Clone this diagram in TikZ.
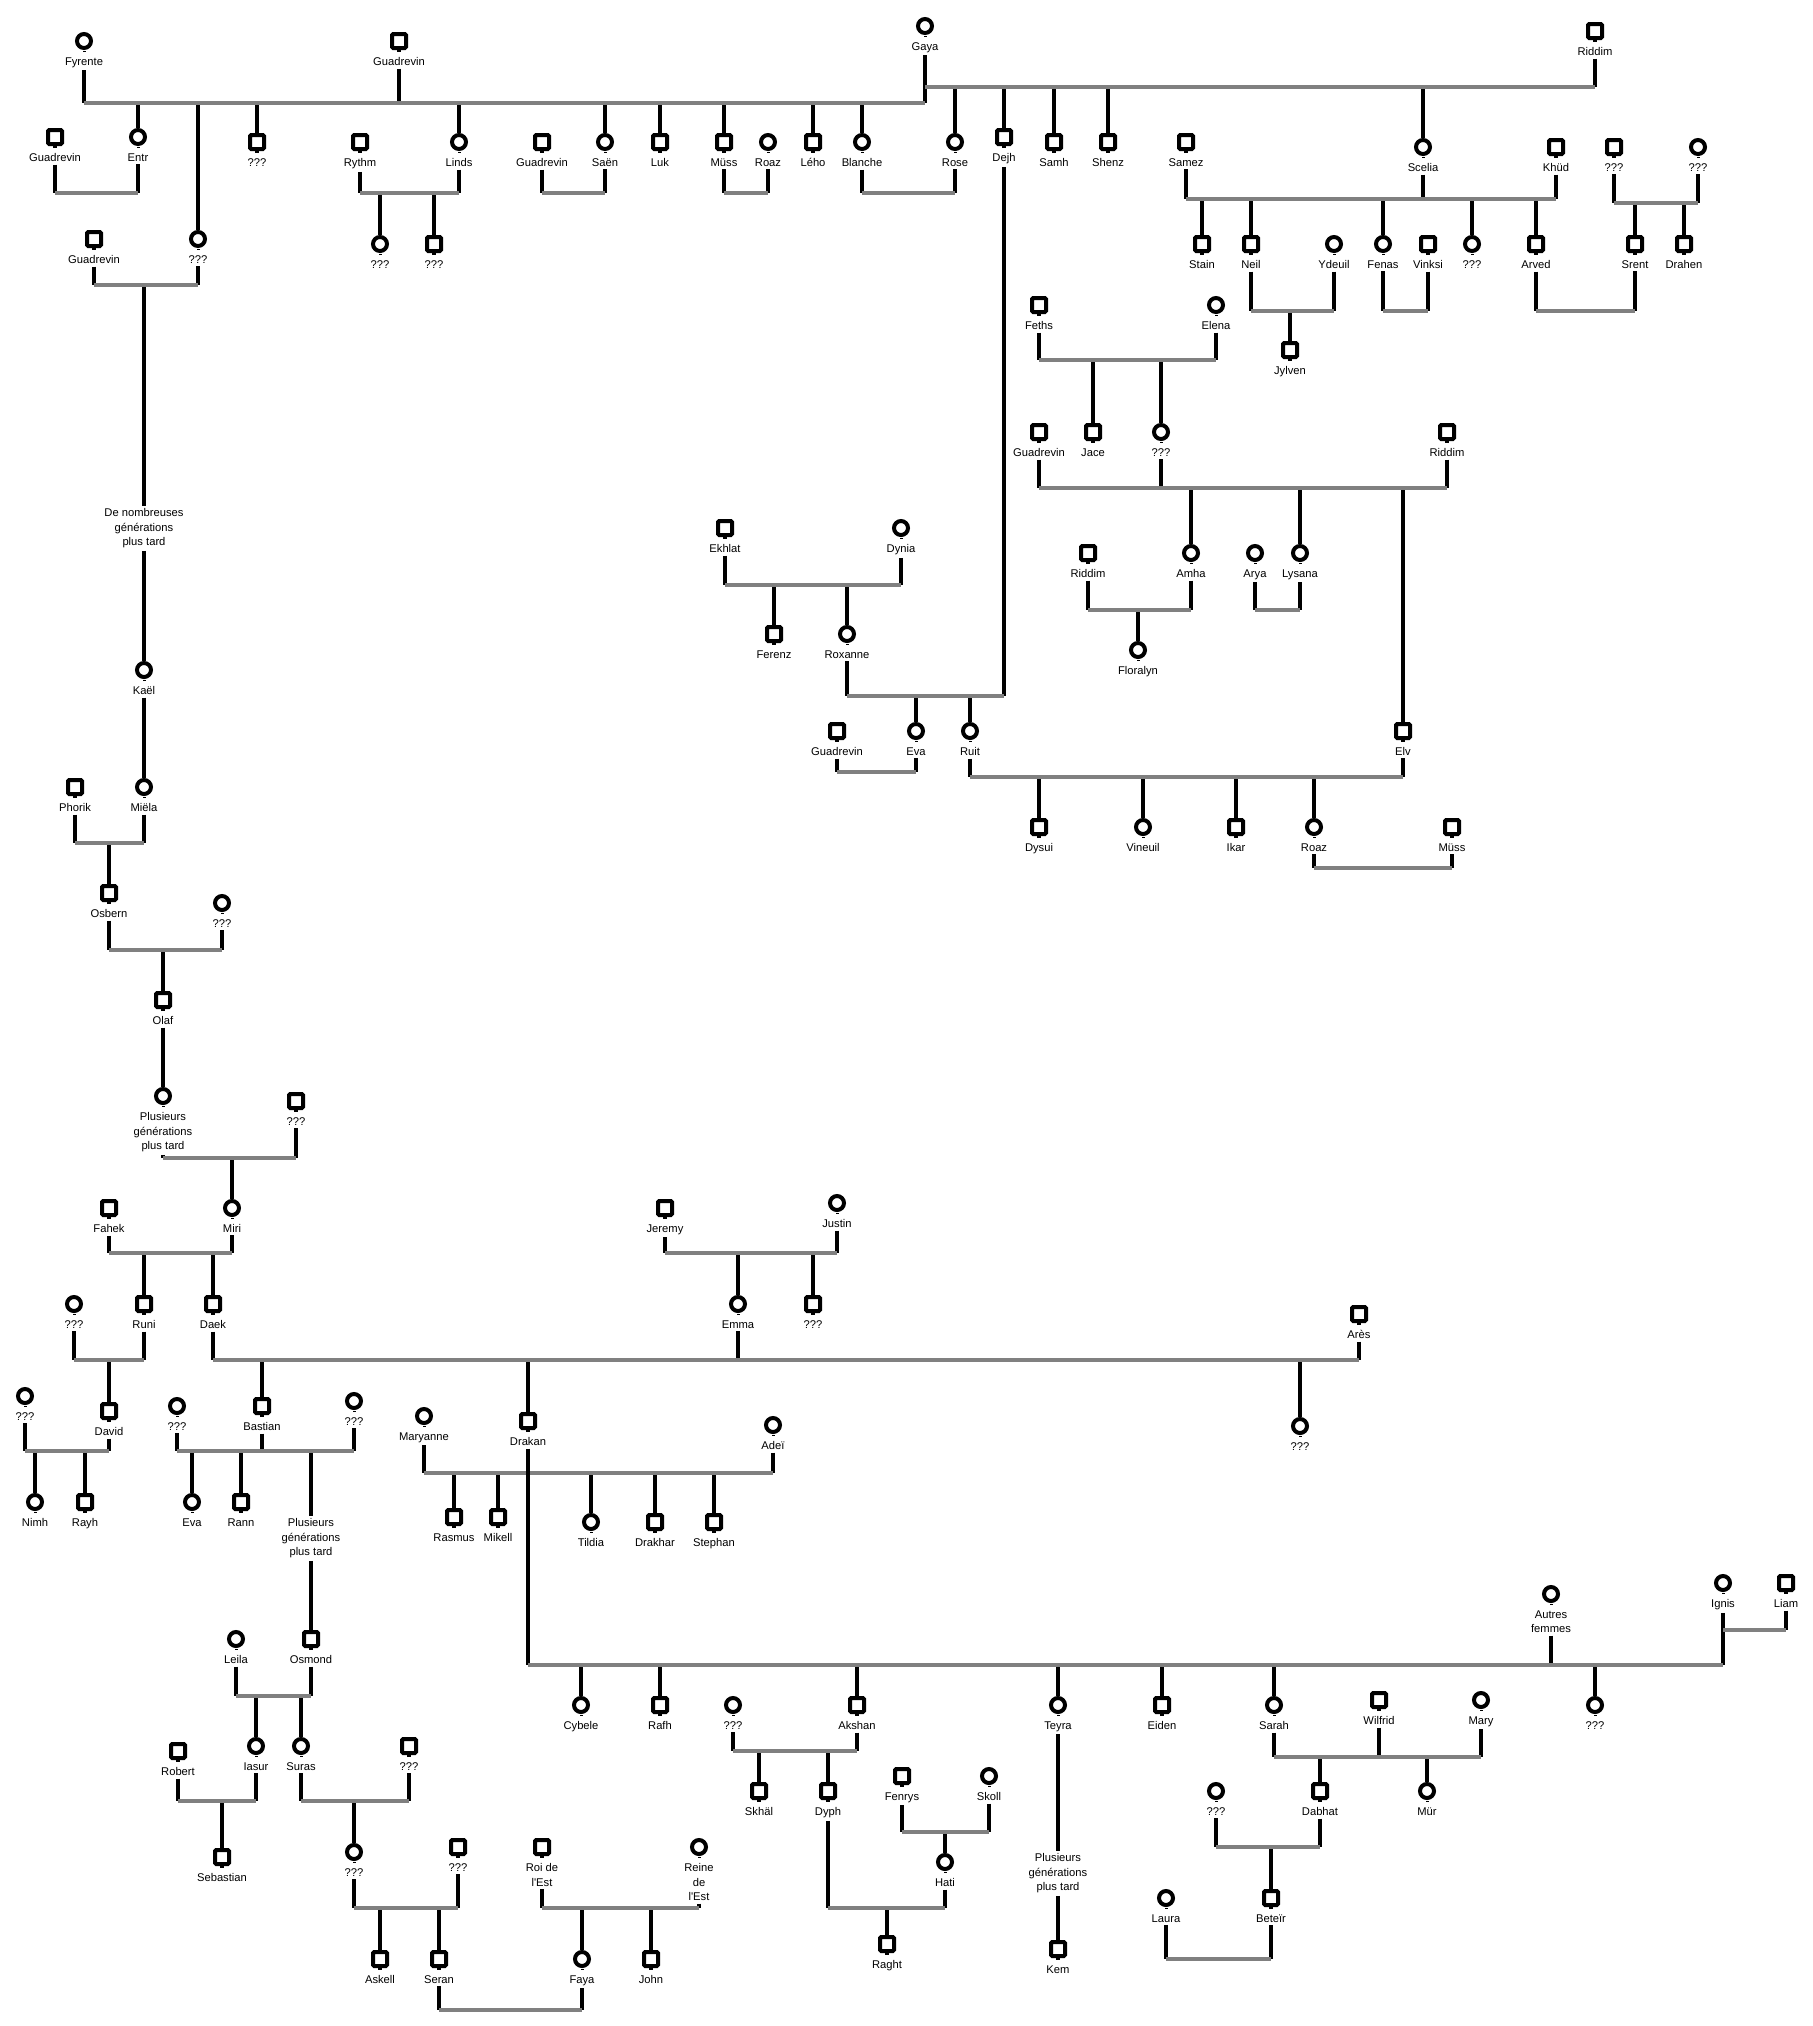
\documentclass[tikz,border=0pt]{standalone}
\usepackage{fontspec}
\newfontfamily\labf{Liberation Sans}
\definecolor{barg}{RGB}{128,128,128}
\tikzset{
 msym/.style={rectangle, draw=black, line width=2pt, fill=white, minimum width=7pt, minimum height=7pt, inner sep=0pt, rounded corners=0.6pt},
 fsym/.style={circle, draw=black, line width=2pt, fill=white, minimum size=7pt, inner sep=0pt},
 lab/.style={font=\labf\fontsize{5.6}{7.25}\selectfont, fill=white, inner xsep=0.5pt, inner ysep=1.25pt, anchor=north, align=center},
 kin/.style={draw=black, line width=2pt},
 barline/.style={draw=barg, line width=2pt},
}
\newcommand\pM[4]{\node[msym] (#1) at (#2,-#3) {};\fill (#1.center) ++(-2,-8.5) rectangle ++(4,-2);\path (#1.center) ++(0,-13.5) node[lab] (#1-l) {#4};}
\newcommand\pF[4]{\node[fsym] (#1) at (#2,-#3) {};\fill (#1.center) ++(-1.5,-9.5) rectangle ++(3,-1);\path (#1.center) ++(0,-13.5) node[lab] (#1-l) {#4};}
\newcommand\spl[2]{\draw[kin] (#1-l.south) -- (#1-l.south |- #2);}
\newcommand\chl[2]{\draw[kin] (#1 |- #2) -- (#1);}
\newcommand\barl[3]{\draw[barline] (#2 |- #1) -- (#3 |- #1);}
\begin{document}
\begin{tikzpicture}[x=0.5pt,y=0.5pt]
\fill[white] (0,0) rectangle (1813,-2026);
\useasboundingbox (0,0) rectangle (1813,-2026);
% bar levels
\foreach \v in {87,103,193,199,203,285,311,360,488,585,610,696,772,777,843,868,950,1158,1253,1360,1451,1473,1630,1665,1696,1751,1757,1801,1832,1847,1908,1959,2010}{\coordinate (y\v) at (0,-\v);}
% ---------- people ----------
\pF{fyr}{84}{41}{Fyrente}
\pM{guadA}{399}{41}{Guadrevin}
\pF{gaya}{925}{26}{Gaya}
\pM{ridA}{1595}{31}{Riddim}
\pM{guadB}{55}{137}{Guadrevin}
\pF{entr}{138}{137}{Entr}
\pM{qMa}{257}{142}{???}
\pM{rythm}{360}{142}{Rythm}
\pF{linds}{459}{142}{Linds}
\pM{guadC}{542}{142}{Guadrevin}
\pF{saen}{605}{142}{Saën}
\pM{luk}{660}{142}{Luk}
\pM{mussA}{724}{142}{Müss}
\pF{roazA}{768}{142}{Roaz}
\pM{leho}{813}{142}{Lého}
\pF{blanche}{862}{142}{Blanche}
\pF{rose}{955}{142}{Rose}
\pM{dejh}{1004}{137}{Dejh}
\pM{samh}{1054}{142}{Samh}
\pM{shenz}{1108}{142}{Shenz}
\pM{samez}{1186}{142}{Samez}
\pF{scelia}{1423}{147}{Scelia}
\pM{khud}{1556}{147}{Khüd}
\pM{qMb}{1614}{147}{???}
\pF{qFb}{1698}{147}{???}
\pM{guadD}{94}{239}{Guadrevin}
\pF{qFa}{198}{239}{???}
\pF{qFc}{380}{244}{???}
\pM{qMc}{434}{244}{???}
\pM{stain}{1202}{244}{Stain}
\pM{neil}{1251}{244}{Neil}
\pF{ydeuil}{1334}{244}{Ydeuil}
\pF{fenas}{1383}{244}{Fenas}
\pM{vinksi}{1428}{244}{Vinksi}
\pF{qFd}{1472}{244}{???}
\pM{arved}{1536}{244}{Arved}
\pM{srent}{1635}{244}{Srent}
\pM{drahen}{1684}{244}{Drahen}
\pM{jylven}{1290}{350}{Jylven}
\pM{feths}{1039}{305}{Feths}
\pF{elena}{1216}{305}{Elena}
\pM{jace}{1093}{432}{Jace}
\pF{qFe}{1161}{432}{???}
\pM{guadE}{1039}{432}{Guadrevin}
\pM{ridB}{1447}{432}{Riddim}
\pM{ekhlat}{725}{528}{Ekhlat}
\pF{dynia}{901}{528}{Dynia}
\pM{ridC}{1088}{553}{Riddim}
\pF{amha}{1191}{553}{Amha}
\pF{arya}{1255}{553}{Arya}
\pF{lysana}{1300}{553}{Lysana}
\pM{ferenz}{774}{634}{Ferenz}
\pF{roxanne}{847}{634}{Roxanne}
\pF{floralyn}{1138}{650}{Floralyn}
\pM{guadF}{837}{731}{Guadrevin}
\pF{evaA}{916}{731}{Eva}
\pF{ruit}{970}{731}{Ruit}
\pM{elv}{1403}{731}{Elv}
\pM{dysui}{1039}{827}{Dysui}
\pF{vineuil}{1143}{827}{Vineuil}
\pM{ikar}{1236}{827}{Ikar}
\pF{roazB}{1314}{827}{Roaz}
\pM{mussB}{1452}{827}{Müss}
\node[lab] (t1) at (144,-505.5) {De nombreuses\\générations\\plus tard};
\pF{kael}{144}{670}{Kaël}
\pM{phorik}{75}{787}{Phorik}
\pF{miela}{144}{787}{Miëla}
\pM{osbern}{109}{893}{Osbern}
\pF{qFf}{222}{903}{???}
\pM{olaf}{163}{1000}{Olaf}
\pF{plusA}{163}{1096}{Plusieurs\\générations\\plus tard}
\pM{qMd}{296}{1101}{???}
\pM{fahek}{109}{1208}{Fahek}
\pF{miri}{232}{1208}{Miri}
\pM{jeremy}{665}{1208}{Jeremy}
\pF{justin}{837}{1203}{Justin}
\pF{qFg}{74}{1304}{???}
\pM{runi}{144}{1304}{Runi}
\pM{daek}{213}{1304}{Daek}
\pF{emma}{738}{1304}{Emma}
\pM{qMe}{813}{1304}{???}
\pM{ares}{1359}{1314}{Arès}
\pF{qFh}{25}{1396}{???}
\pM{david}{109}{1411}{David}
\pF{qFi}{177}{1406}{???}
\pM{bastian}{262}{1406}{Bastian}
\pF{qFj}{354}{1401}{???}
\pF{maryanne}{424}{1416}{Maryanne}
\pM{drakan}{528}{1421}{Drakan}
\pF{adei}{773}{1425}{Adeï}
\pF{qFk}{1300}{1426}{???}
\pF{nimh}{35}{1502}{Nimh}
\pM{rayh}{85}{1502}{Rayh}
\pF{evaB}{192}{1502}{Eva}
\pM{rann}{241}{1502}{Rann}
\node[lab] (t2) at (311,-1515.5) {Plusieurs\\générations\\plus tard};
\pM{rasmus}{454}{1517}{Rasmus}
\pM{mikell}{498}{1517}{Mikell}
\pF{tildia}{591}{1522}{Tildia}
\pM{drakhar}{655}{1522}{Drakhar}
\pM{stephan}{714}{1522}{Stephan}
\pF{autres}{1551}{1594}{Autres\\femmes}
\pF{ignis}{1723}{1583}{Ignis}
\pM{liam}{1786}{1583}{Liam}
\pF{leila}{236}{1639}{Leila}
\pM{osmond}{311}{1639}{Osmond}
\pF{cybele}{581}{1705}{Cybele}
\pM{rafh}{660}{1705}{Rafh}
\pF{qFl}{733}{1705}{???}
\pM{akshan}{857}{1705}{Akshan}
\pF{teyra}{1058}{1705}{Teyra}
\pM{eiden}{1162}{1705}{Eiden}
\pF{sarah}{1274}{1705}{Sarah}
\pM{wilfrid}{1379}{1700}{Wilfrid}
\pF{mary}{1481}{1700}{Mary}
\pF{qFm}{1595}{1705}{???}
\pF{iasur}{256}{1746}{Iasur}
\pF{suras}{301}{1746}{Suras}
\pM{robert}{178}{1751}{Robert}
\pM{qMf}{409}{1746}{???}
\pM{fenrys}{902}{1776}{Fenrys}
\pF{skoll}{989}{1776}{Skoll}
\pM{skhal}{759}{1791}{Skhäl}
\pM{dyph}{828}{1791}{Dyph}
\pF{qFn}{1216}{1791}{???}
\pM{dabhat}{1320}{1791}{Dabhat}
\pF{mur}{1427}{1791}{Mür}
\pM{sebastian}{222}{1857}{Sebastian}
\pF{qFo}{354}{1852}{???}
\pM{qMg}{458}{1847}{???}
\pM{roi}{542}{1847}{Roi de\\l'Est}
\pF{reine}{699}{1847}{Reine\\de\\l'Est}
\node[lab] (t3) at (1058,-1850.5) {Plusieurs\\générations\\plus tard};
\pF{hati}{945}{1862}{Hati}
\pF{laura}{1166}{1898}{Laura}
\pM{beteir}{1271}{1898}{Beteïr}
\pM{raght}{887}{1944}{Raght}
\pM{kem}{1058}{1949}{Kem}
\pM{askell}{380}{1959}{Askell}
\pM{seran}{439}{1959}{Seran}
\pF{faya}{582}{1959}{Faya}
\pM{john}{651}{1959}{John}
% ---------- connectors ----------
% top generation
\spl{fyr}{y103}\spl{guadA}{y103}\spl{gaya}{y103}
\foreach \c in {entr,qFa,qMa,linds,saen,luk,mussA,leho,blanche}{\chl{\c}{y103}}
\spl{ridA}{y87}
\foreach \c in {rose,dejh,samh,shenz,scelia}{\chl{\c}{y87}}
\barl{y103}{fyr}{gaya}
\barl{y87}{gaya}{ridA}
% couples at 193
\foreach \p in {guadB,entr,rythm,linds,guadC,saen,mussA,roazA,blanche,rose}{\spl{\p}{y193}}
\chl{qFc}{y193}\chl{qMc}{y193}
\barl{y193}{guadB}{entr}\barl{y193}{rythm}{linds}\barl{y193}{guadC}{saen}\barl{y193}{mussA}{roazA}\barl{y193}{blanche}{rose}
% left descent
\spl{guadD}{y285}\spl{qFa}{y285}
\chl{t1}{y285}
\barl{y285}{guadD}{qFa}
\draw[kin] (t1.south) -- (kael);
\draw[kin] (kael-l.south) -- (miela);
\spl{phorik}{y843}\spl{miela}{y843}\chl{osbern}{y843}\barl{y843}{phorik}{miela}
\spl{osbern}{y950}\spl{qFf}{y950}\chl{olaf}{y950}\barl{y950}{osbern}{qFf}
\draw[kin] (olaf-l.south) -- (plusA);
\spl{plusA}{y1158}\spl{qMd}{y1158}\chl{miri}{y1158}\barl{y1158}{plusA}{qMd}
\spl{fahek}{y1253}\spl{miri}{y1253}\chl{runi}{y1253}\chl{daek}{y1253}\barl{y1253}{fahek}{miri}
\spl{jeremy}{y1253}\spl{justin}{y1253}\chl{emma}{y1253}\chl{qMe}{y1253}\barl{y1253}{jeremy}{justin}
\spl{qFg}{y1360}\spl{runi}{y1360}\chl{david}{y1360}\barl{y1360}{qFg}{runi}
\spl{daek}{y1360}\spl{emma}{y1360}\spl{ares}{y1360}
\chl{bastian}{y1360}\chl{drakan}{y1360}\chl{qFk}{y1360}
\barl{y1360}{daek}{ares}
\spl{qFh}{y1451}\spl{david}{y1451}\chl{nimh}{y1451}\chl{rayh}{y1451}\barl{y1451}{qFh}{david}
\spl{qFi}{y1451}\spl{bastian}{y1451}\spl{qFj}{y1451}
\chl{evaB}{y1451}\chl{rann}{y1451}\chl{t2}{y1451}
\barl{y1451}{qFi}{qFj}
\draw[kin] (t2.south) -- (osmond);
\spl{maryanne}{y1473}\spl{adei}{y1473}
\foreach \c in {rasmus,mikell,tildia,drakhar,stephan}{\chl{\c}{y1473}}
\barl{y1473}{maryanne}{adei}
\spl{drakan}{y1665}\spl{autres}{y1665}\spl{ignis}{y1665}
\foreach \c in {cybele,rafh,akshan,teyra,eiden,sarah,qFm}{\chl{\c}{y1665}}
\barl{y1665}{drakan}{ignis}
\spl{liam}{y1630}\barl{y1630}{ignis}{liam}
\spl{leila}{y1696}\spl{osmond}{y1696}\chl{iasur}{y1696}\chl{suras}{y1696}\barl{y1696}{leila}{osmond}
\spl{robert}{y1801}\spl{iasur}{y1801}\chl{sebastian}{y1801}\barl{y1801}{robert}{iasur}
\spl{suras}{y1801}\spl{qMf}{y1801}\chl{qFo}{y1801}\barl{y1801}{suras}{qMf}
\spl{qFo}{y1908}\spl{qMg}{y1908}\chl{askell}{y1908}\chl{seran}{y1908}\barl{y1908}{qFo}{qMg}
\spl{roi}{y1908}\spl{reine}{y1908}\chl{faya}{y1908}\chl{john}{y1908}\barl{y1908}{roi}{reine}
\spl{seran}{y2010}\spl{faya}{y2010}\barl{y2010}{seran}{faya}
\spl{qFl}{y1751}\spl{akshan}{y1751}\chl{skhal}{y1751}\chl{dyph}{y1751}\barl{y1751}{qFl}{akshan}
\spl{fenrys}{y1832}\spl{skoll}{y1832}\chl{hati}{y1832}\barl{y1832}{fenrys}{skoll}
\spl{dyph}{y1908}\spl{hati}{y1908}\chl{raght}{y1908}\barl{y1908}{dyph}{hati}
\draw[kin] (teyra-l.south) -- (t3.north);
\draw[kin] (t3.south) -- (kem);
\spl{sarah}{y1757}\spl{wilfrid}{y1757}\spl{mary}{y1757}\chl{dabhat}{y1757}\chl{mur}{y1757}\barl{y1757}{sarah}{mary}
\spl{qFn}{y1847}\spl{dabhat}{y1847}\chl{beteir}{y1847}\barl{y1847}{qFn}{dabhat}
\spl{laura}{y1959}\spl{beteir}{y1959}\barl{y1959}{laura}{beteir}
% upper right
\spl{samez}{y199}\spl{scelia}{y199}\spl{khud}{y199}
\foreach \c in {stain,neil,fenas,qFd,arved}{\chl{\c}{y199}}
\barl{y199}{samez}{khud}
\spl{qMb}{y203}\spl{qFb}{y203}\chl{srent}{y203}\chl{drahen}{y203}\barl{y203}{qMb}{qFb}
\spl{neil}{y311}\spl{ydeuil}{y311}\chl{jylven}{y311}\barl{y311}{neil}{ydeuil}
\spl{fenas}{y311}\spl{vinksi}{y311}\barl{y311}{fenas}{vinksi}
\spl{arved}{y311}\spl{srent}{y311}\barl{y311}{arved}{srent}
\spl{feths}{y360}\spl{elena}{y360}\chl{jace}{y360}\chl{qFe}{y360}\barl{y360}{feths}{elena}
\spl{guadE}{y488}\spl{qFe}{y488}\spl{ridB}{y488}
\chl{amha}{y488}\chl{lysana}{y488}\chl{elv}{y488}
\barl{y488}{guadE}{ridB}
\spl{ridC}{y610}\spl{amha}{y610}\chl{floralyn}{y610}\barl{y610}{ridC}{amha}
\spl{arya}{y610}\spl{lysana}{y610}\barl{y610}{arya}{lysana}
\spl{ekhlat}{y585}\spl{dynia}{y585}\chl{ferenz}{y585}\chl{roxanne}{y585}\barl{y585}{ekhlat}{dynia}
\spl{roxanne}{y696}\spl{dejh}{y696}\chl{evaA}{y696}\chl{ruit}{y696}\barl{y696}{roxanne}{dejh}
\spl{guadF}{y772}\spl{evaA}{y772}\barl{y772}{guadF}{evaA}
\spl{ruit}{y777}\spl{elv}{y777}
\foreach \c in {dysui,vineuil,ikar,roazB}{\chl{\c}{y777}}
\barl{y777}{ruit}{elv}
\spl{roazB}{y868}\spl{mussB}{y868}\barl{y868}{roazB}{mussB}
\end{tikzpicture}
\end{document}
